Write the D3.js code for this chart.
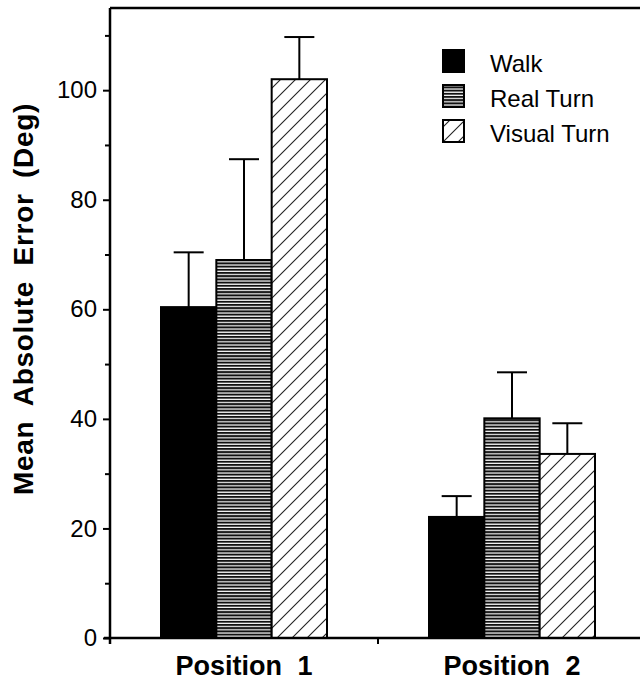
<!DOCTYPE html>
<html><head><meta charset="utf-8">
<script src="https://cdn.jsdelivr.net/npm/d3@7"></script>
<style>body{margin:0;background:#fff}</style>
</head><body>
<svg id="c" width="640" height="681"></svg>
<script>
const groups = ["Position 1", "Position 2"];
const series = ["Walk", "Real Turn", "Visual Turn"];
const means = [[60.4, 69.0, 102.0], [22.1, 40.1, 33.6]];
const errTops = [[70.4, 87.4, 109.7], [25.9, 48.5, 39.2]];
const yTicks = [0, 20, 40, 60, 80, 100];
const yMinor = [10, 30, 50, 70, 90, 110];

(function(){
const svg = d3.select("#c");
const mL = 110, mT = 8, mB = 638, mR = 646;
const y = d3.scaleLinear().domain([0, 115]).range([mB, mT]);
const x = d3.scaleBand().domain(groups).range([mL, mR]);
const xs = d3.scaleBand().domain(series).range([0, 166]);
const font = "'Liberation Sans', Arial, Helvetica, sans-serif";

const defs = svg.append("defs");
const ph = defs.append("pattern").attr("id", "hz").attr("patternUnits", "userSpaceOnUse")
  .attr("width", 6).attr("height", 3.2);
ph.append("rect").attr("width", 6).attr("height", 3.2).attr("fill", "#fff");
ph.append("rect").attr("y", 0).attr("width", 6).attr("height", 2).attr("fill", "#111");
const pd = defs.append("pattern").attr("id", "dg").attr("patternUnits", "userSpaceOnUse")
  .attr("width", 15).attr("height", 15);
pd.append("rect").attr("width", 15).attr("height", 15).attr("fill", "#fff");
pd.append("path").attr("d", "M0,15 L15,0 M-3,3 L3,-3 M12,18 L18,12").attr("stroke", "#222").attr("stroke-width", 1.1);
const fills = ["#000", "url(#hz)", "url(#dg)"];

svg.append("line").attr("x1", mL).attr("x2", 640).attr("y1", mT).attr("y2", mT).attr("stroke", "#000").attr("stroke-width", 2.5);

groups.forEach((g, gi) => {
  const gx = x(g) + x.bandwidth() / 2 - 83;
  series.forEach((s, si) => {
    const bx = gx + xs(s), bw = xs.bandwidth(), cx = bx + bw / 2;
    svg.append("line").attr("x1", cx).attr("x2", cx).attr("y1", y(means[gi][si])).attr("y2", y(errTops[gi][si]))
      .attr("stroke", "#000").attr("stroke-width", 2);
    svg.append("line").attr("x1", cx - 15).attr("x2", cx + 15).attr("y1", y(errTops[gi][si])).attr("y2", y(errTops[gi][si]))
      .attr("stroke", "#000").attr("stroke-width", 2);
    svg.append("rect").attr("x", bx).attr("y", y(means[gi][si])).attr("width", bw)
      .attr("height", y(0) - y(means[gi][si])).attr("fill", fills[si]).attr("stroke", "#000").attr("stroke-width", 2);
  });
});

const ya = svg.append("g").attr("transform", `translate(${mL},0)`)
  .call(d3.axisLeft(y).tickValues(yTicks).tickSize(7).tickPadding(6));
ya.select(".domain").remove();
ya.selectAll("line").attr("stroke", "#000").attr("stroke-width", 2);
ya.selectAll("text").attr("font-family", font).attr("font-size", 24).attr("fill", "#000");
svg.append("g").attr("transform", `translate(${mL},0)`)
  .call(d3.axisLeft(y).tickValues(yMinor).tickSize(5).tickFormat(""))
  .call(g => { g.select(".domain").remove(); g.selectAll("line").attr("stroke", "#000").attr("stroke-width", 2); });
svg.append("line").attr("x1", mL).attr("x2", mL).attr("y1", mT).attr("y2", mB + 6).attr("stroke", "#000").attr("stroke-width", 2.5);

svg.append("line").attr("x1", mL - 6).attr("x2", 640).attr("y1", mB).attr("y2", mB).attr("stroke", "#000").attr("stroke-width", 2.5);
svg.append("line").attr("x1", x(groups[1])).attr("x2", x(groups[1])).attr("y1", mB).attr("y2", mB + 6).attr("stroke", "#000").attr("stroke-width", 2);
groups.forEach(g => {
  svg.append("text").attr("x", x(g) + x.bandwidth() / 2).attr("y", 675).attr("text-anchor", "middle")
    .attr("font-family", font).attr("font-weight", "bold").attr("font-size", 27).attr("word-spacing", 8)
    .attr("fill", "#000").text(g);
});

svg.append("text").attr("transform", `translate(33,299) rotate(-90)`)
  .attr("text-anchor", "middle").attr("font-family", font).attr("font-weight", "bold").attr("font-size", 28)
  .attr("word-spacing", 7).attr("letter-spacing", 0.7)
  .attr("fill", "#000").text("Mean Absolute Error (Deg)");

const legY = [50, 85, 120];
series.forEach((s, i) => {
  svg.append("rect").attr("x", 443).attr("y", legY[i]).attr("width", 21).attr("height", 22)
    .attr("fill", fills[i]).attr("stroke", "#000").attr("stroke-width", 2);
  svg.append("text").attr("x", 490).attr("y", legY[i] + 21.5).attr("font-family", font).attr("font-size", 24)
    .attr("fill", "#000").text(s);
});
})();
</script>
</body></html>
